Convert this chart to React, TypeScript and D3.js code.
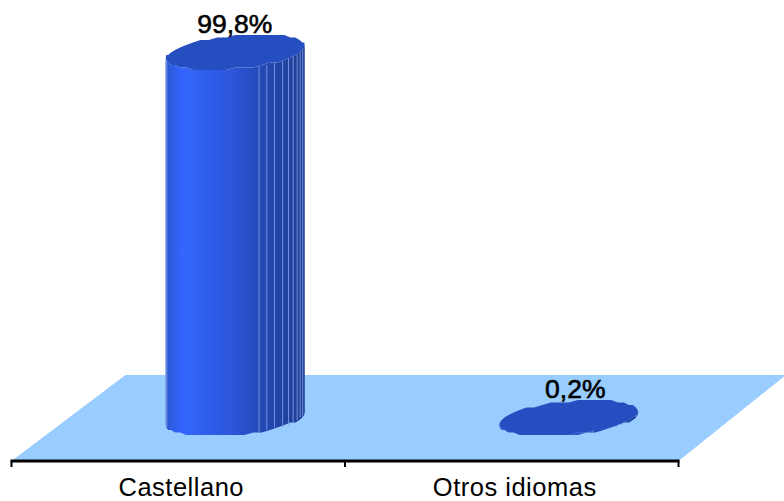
import React from 'react';
import * as d3 from 'd3';

const categories = ['Castellano', 'Otros idiomas'];
const values = [99.8, 0.2];
const valueLabels = ['99,8%', '0,2%'];

const width = 784;
const height = 501;
const axisY = 461;
const depthX = 114;
const depthY = 86;
const rx = 69.5;
const ry = 16.5;
const tilt = 0.09;
const facetCount = 48;
// facet edges that catch the light, in degrees round the column
const litAngles = [176, 170, 70, 63, 55.6, 47, 40, 33.6, 27, 21, 14];

const x = d3.scaleBand<string>().domain(categories).range([11.5, 678.5]);
const y = d3.scaleLinear().domain([0, 100]).range([axisY + 0.5 - depthY / 2, 51.3]);

// the chart's ellipses are coarse polygons, so snap them to a rough grid
const snap = (v: number) => Math.round(v / 2.5) * 2.5;

const edgePoint = (cx: number, cy: number, t: number): [number, number] => [
  cx + rx * Math.cos(t),
  snap(cy + ry * Math.sin(t) - tilt * rx * Math.cos(t)),
];

const line = d3.line().curve(d3.curveLinearClosed);

const ellipsePath = (cx: number, cy: number) =>
  line(d3.range(facetCount).map(i => edgePoint(cx, cy, (i / facetCount) * 2 * Math.PI))) as string;

const bodyPath = (cx: number, topY: number, baseY: number) => {
  const angles = d3.range(facetCount / 2 + 1).map(i => (i / (facetCount / 2)) * Math.PI);
  return line([
    ...angles.map(a => edgePoint(cx, baseY, a)),
    ...angles.slice().reverse().map(a => edgePoint(cx, topY, a)),
  ]) as string;
};

export default function App() {
  const baseY = y(0);
  const floor = d3.line()([
    [11.5, axisY],
    [11.5 + depthX, axisY - depthY],
    [width + 2, axisY - depthY],
    [678.5, axisY],
  ]) as string;
  const ticks = [11.5, x(categories[1]) as number, 678.5];

  return (
    <svg width={width} height={height} style={{ position: 'absolute', left: 0, top: 0 }}
      fontFamily="'Liberation Sans', sans-serif">
      <defs>
        <linearGradient id="columnFill" gradientUnits="objectBoundingBox" x1="0" x2="1" y1="0" y2="0">
          <stop offset="0" stopColor="#2b54cf" />
          <stop offset="0.04" stopColor="#2f5be0" />
          <stop offset="0.12" stopColor="#3366ff" />
          <stop offset="0.5" stopColor="#2b55d6" />
          <stop offset="0.7" stopColor="#2548b4" />
          <stop offset="1" stopColor="#1f3c90" />
        </linearGradient>
      </defs>
      <rect width={width} height={height} fill="#ffffff" />
      <path d={floor} fill="#99ccff" />
      <line x1={10.5} x2={679.5} y1={axisY} y2={axisY} stroke="#000000" strokeWidth={3} />
      {ticks.map(t => (
        <line key={t} x1={t} x2={t} y1={axisY} y2={axisY + 6} stroke="#000000" strokeWidth={2} />
      ))}
      {categories.map((c, i) => {
        const band = (x(c) as number) + x.bandwidth() / 2;
        const cx = band + depthX / 2;
        const top = y(values[i]);
        return (
          <g key={c}>
            <path d={bodyPath(cx, top, baseY)} fill="url(#columnFill)" />
            {litAngles.map(deg => {
              const a = (deg * Math.PI) / 180;
              const [x1, y1] = edgePoint(cx, top, a);
              const [x2, y2] = edgePoint(cx, baseY, a);
              return <line key={deg} x1={x1} x2={x2} y1={y1} y2={y2} stroke="#7d9be8" strokeWidth={0.9} />;
            })}
            <path d={ellipsePath(cx, top)} fill="#254fc0" />
            <text x={cx - 0.5 + i * 7} y={top - 19.5} textAnchor="middle" fontSize={26.5}
              stroke="#000000" strokeWidth={0.6} fill="#000000">{valueLabels[i]}</text>
            <text x={band + 3} y={495.5} textAnchor="middle" fontSize={25.5} letterSpacing={0.5} fill="#000000">{c}</text>
          </g>
        );
      })}
    </svg>
  );
}
